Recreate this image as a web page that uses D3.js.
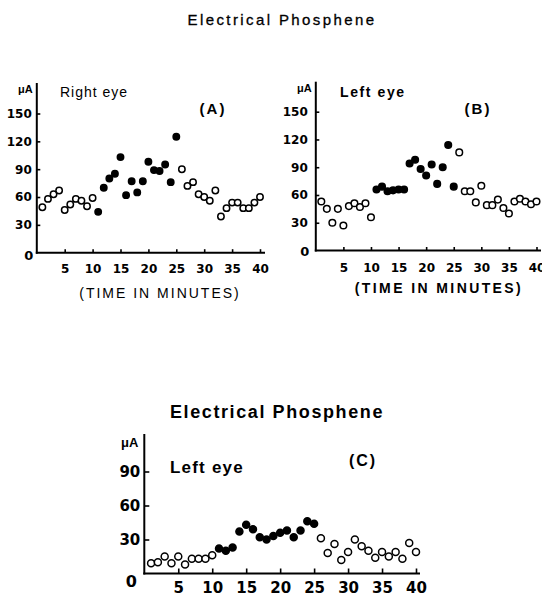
<!DOCTYPE html>
<html>
<head>
<meta charset="utf-8">
<script src="https://cdn.jsdelivr.net/npm/d3@7"></script>
<style>
html,body{margin:0;padding:0;background:#fff;}
svg{display:block;}
</style>
</head>
<body>
<script>
// ---- data ----
const minutes = [1,2,3,4,5,6,7,8,9,10,11,12,13,14,15,16,17,18,19,20,21,22,23,24,25,26,27,28,29,30,31,32,33,34,35,36,37,38,39,40];
const rightEyeA = [49,58,63,67,46,52,58,56,50,59,44,70,80,85,103,62,77,65,77,98,89,88,95,76,125,90,72,76,63,60,56,67,39,48,54,54,48,48,54,60];
const leftEyeB  = [53,45,30,45,27,48,51,47,51,36,66,69,64,65,66,66,94,98,88,81,93,72,90,114,69,106,64,64,52,70,49,49,55,46,40,53,56,53,50,53];
const leftEyeC  = [9,10,15,9,15,8,13,13,13,16,22,20,23,37,43,39,32,30,33,36,38,32,38,46,44,31,18,26,12,19,30,24,20,14,19,15,19,13,27,19];
const filledRange = [11, 25];           // minutes drawn with filled dots
const xTicks = [5,10,15,20,25,30,35,40];
const yTicksAB = [30,60,90,120,150];
const yTicksC = [30,60,90];

const W = 542, H = 597;
const svg = d3.select("body").append("svg").attr("width", W).attr("height", H);

const TICKFONT = "'DejaVu Sans', sans-serif";
const TEXTFONT = "'Liberation Sans', Arial, sans-serif";

// titles
svg.append("text").attr("x", 282).attr("y", 25).attr("text-anchor", "middle")
  .attr("font-family", TEXTFONT).attr("font-size", 15).attr("letter-spacing", 2.4)
  .attr("stroke", "#000").attr("stroke-width", 0.3)
  .text("Electrical  Phosphene");
svg.append("text").attr("x", 277).attr("y", 418).attr("text-anchor", "middle")
  .attr("font-family", TEXTFONT).attr("font-weight", "bold").attr("font-size", 18).attr("letter-spacing", 1.6)
  .text("Electrical  Phosphene");

function panel(cfg) {
  const x = d3.scaleLinear().domain([0, 40]).range(cfg.xr);
  const y = d3.scaleLinear().domain([0, cfg.yMax]).range(cfg.yr);
  const g = svg.append("g");
  const x0 = x(0), y0 = y(0);

  // axes
  const xa = d3.axisBottom(x).tickValues(xTicks).tickSizeInner(-cfg.tick).tickSizeOuter(0).tickPadding(cfg.xPad);
  const gx = g.append("g").attr("transform", `translate(0,${y0})`).call(xa);
  gx.select(".domain").remove();
  gx.selectAll("line").attr("stroke", "#000").attr("stroke-width", 1.6);
  gx.selectAll("text").attr("font-family", TICKFONT).attr("font-weight", "bold")
    .attr("font-size", cfg.tf).attr("fill", "#000");

  const ya = d3.axisLeft(y).tickValues(cfg.yTicks).tickSizeInner(-cfg.tick).tickSizeOuter(0).tickPadding(cfg.yPad);
  const gy = g.append("g").attr("transform", `translate(${x0},0)`).call(ya);
  gy.select(".domain").remove();
  gy.selectAll("line").attr("stroke", "#000").attr("stroke-width", 1.6);
  gy.selectAll("text").attr("font-family", TICKFONT).attr("font-weight", "bold")
    .attr("font-size", cfg.tf).attr("fill", "#000");

  g.append("line").attr("x1", x0).attr("x2", x0).attr("y1", cfg.yTop).attr("y2", y0 + 1)
    .attr("stroke", "#000").attr("stroke-width", 2);
  g.append("line").attr("x1", x0 - 1).attr("x2", cfg.xEnd).attr("y1", y0).attr("y2", y0)
    .attr("stroke", "#000").attr("stroke-width", 2);

  // zero label
  g.append("text").attr("x", x0 + cfg.zero[0]).attr("y", y0 + cfg.zero[1])
    .attr("text-anchor", "middle").attr("font-family", TICKFONT).attr("font-size", cfg.tf + 1)
    .attr("font-weight", "bold").text("0");
  // unit label
  g.append("text").attr("x", x0 - cfg.unitDx).attr("y", cfg.unitY).attr("text-anchor", "end")
    .attr("font-family", TEXTFONT).attr("font-weight", "bold").attr("font-size", cfg.unitF)
    .text("μA");
  // eye label
  g.append("text").attr("x", cfg.eye[0]).attr("y", cfg.eye[1])
    .attr("font-family", TEXTFONT).attr("font-weight", cfg.eyeW).attr("font-size", cfg.eyeF)
    .attr("letter-spacing", cfg.eyeLS).text(cfg.eyeText);
  // panel letter
  g.append("text").attr("x", cfg.letter[0]).attr("y", cfg.letter[1]).attr("text-anchor", "middle")
    .attr("font-family", TEXTFONT).attr("font-weight", "bold").attr("font-size", cfg.letterF)
    .attr("letter-spacing", 2).text(cfg.letterText);
  // x title
  if (cfg.xTitle) {
    g.append("text").attr("x", cfg.xTitle[0]).attr("y", cfg.xTitle[1]).attr("text-anchor", "middle")
      .attr("font-family", TEXTFONT).attr("font-weight", cfg.xTitleW).attr("font-size", 14)
      .attr("letter-spacing", cfg.xTitleLS).text("(TIME  IN  MINUTES)");
  }

  // points
  g.selectAll("circle").data(cfg.values.map((v, i) => ({m: minutes[i], v})))
    .join("circle")
    .attr("cx", d => x(d.m)).attr("cy", d => y(d.v)).attr("r", cfg.r)
    .attr("fill", d => (d.m >= filledRange[0] && d.m <= filledRange[1]) ? "#000" : "#fff")
    .attr("stroke", "#000").attr("stroke-width", 1.5);
}

panel({
  values: rightEyeA, xr: [36.8, 260], yMax: 150, yr: [252.7, 113.5], yTicks: yTicksAB,
  yTop: 83, xEnd: 265, tick: 3.5, xPad: 12, yPad: 5, tf: 12, r: 3.2,
  zero: [-8, 7], unitY: 93, unitDx: 4, unitF: 11,
  eye: [60, 97], eyeW: "normal", eyeF: 14, eyeLS: 1, eyeText: "Right eye",
  letter: [213, 114], letterF: 15, letterText: "(A)",
  xTitle: [160, 298], xTitleW: "normal", xTitleLS: 2
});
panel({
  values: leftEyeB, xr: [315.8, 536.5], yMax: 150, yr: [250.5, 111.7], yTicks: yTicksAB,
  yTop: 81.7, xEnd: 541, tick: 3.5, xPad: 12.5, yPad: 8, tf: 12, r: 3.3,
  zero: [-11, 5], unitY: 92, unitDx: 4, unitF: 11,
  eye: [340, 97], eyeW: "bold", eyeF: 14, eyeLS: 1.6, eyeText: "Left eye",
  letter: [478, 114], letterF: 15, letterText: "(B)",
  xTitle: [439, 293], xTitleW: "bold", xTitleLS: 2.4
});
panel({
  values: leftEyeC, xr: [144.3, 416], yMax: 90, yr: [573.5, 471.5], yTicks: yTicksC,
  yTop: 434, xEnd: 420, tick: 5, xPad: 9, yPad: 4, tf: 15, r: 3.5,
  zero: [-13, 13], unitY: 447, unitDx: 6, unitF: 13,
  eye: [170, 473], eyeW: "bold", eyeF: 17, eyeLS: 1.2, eyeText: "Left eye",
  letter: [363, 466], letterF: 16, letterText: "(C)",
  xTitle: null
});
</script>
</body>
</html>
